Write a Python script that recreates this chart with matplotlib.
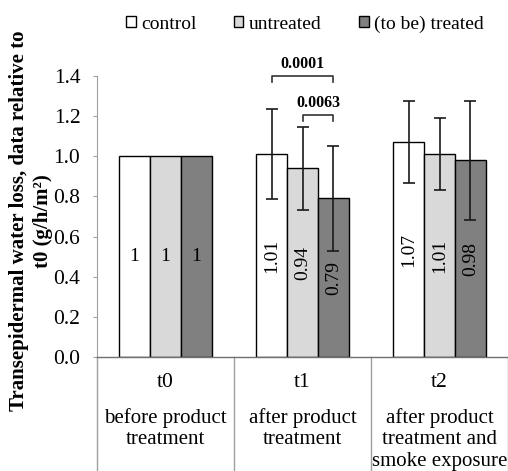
import numpy as np
import matplotlib
matplotlib.use("Agg")
import matplotlib.pyplot as plt
from matplotlib.transforms import blended_transform_factory

plt.rcParams['font.family'] = ['Liberation Serif', 'DejaVu Serif']

categories = ['t0', 't1', 't2']
descriptions = ['before product\ntreatment', 'after product\ntreatment',
                'after product\ntreatment and\nsmoke exposure']
series_names = ['control', 'untreated', '(to be) treated']
control = [1.0, 1.01, 1.07]
untreated = [1.0, 0.94, 1.01]
treated = [1.0, 0.79, 0.98]
control_err = [0.0, 0.225, 0.205]
untreated_err = [0.0, 0.207, 0.18]
treated_err = [0.0, 0.26, 0.295]
sig_pairs = [(1, 0, 2, '0.0001', 1.40), (1, 1, 2, '0.0063', 1.205)]
yticks = [0.0, 0.2, 0.4, 0.6, 0.8, 1.0, 1.2, 1.4]

colors = ['#FFFFFF', '#D9D9D9', '#808080']
values = [control, untreated, treated]
errs = [control_err, untreated_err, treated_err]

W, H = 508, 471
fig = plt.figure(figsize=(W / 100, H / 100), dpi=100)
ax = fig.add_axes([97 / W, (H - 357) / H, (W - 97) / W, (357 - 76) / H])

x = np.arange(len(categories))
bw = 0.226
offsets = [-bw, 0, bw]
handles = []
for i in range(3):
    xs = x + offsets[i]
    b = ax.bar(xs, values[i], width=bw, color=colors[i], edgecolor='black',
               linewidth=1.0, label=series_names[i], zorder=2)
    handles.append(b)
    for j in range(len(categories)):
        v = values[i][j]
        lab = f"{v:g}"
        rot = 0 if len(lab) == 1 else 90
        ax.text(xs[j], v / 2, lab, ha='center', va='center', rotation=rot,
                fontsize=14, zorder=4)
        if errs[i][j] > 0:
            ax.errorbar(xs[j], v, yerr=errs[i][j], fmt='none', ecolor='#1a1a1a',
                        elinewidth=1.2, capsize=4, capthick=1.2, zorder=3,
                        clip_on=False)

# significance brackets
for cat, a, b_, txt, yv in sig_pairs:
    x1 = x[cat] + offsets[a]
    x2 = x[cat] + offsets[b_]
    ax.plot([x1, x1, x2, x2], [yv - 0.03, yv, yv, yv - 0.03], color='#333333',
            lw=1.2, clip_on=False, zorder=5)
    ax.text((x1 + x2) / 2, yv + 0.02, txt, ha='center', va='bottom',
            fontsize=11.5, fontweight='bold', clip_on=False)

ax.set_xlim(-0.5, len(categories) - 0.5)
ax.set_ylim(0, 1.4)
ax.set_yticks(yticks)
ax.set_yticklabels([f"{t:.1f}" for t in yticks], fontsize=15.5)
ax.tick_params(axis='y', length=3, color='#A0A0A0', pad=9)
ax.set_xticks([])
for s in ['top', 'right']:
    ax.spines[s].set_visible(False)
ax.spines['left'].set_color('#A0A0A0')
ax.spines['bottom'].set_color('#707070')
ax.spines['bottom'].set_linewidth(1.0)

# category table below axis
tr = blended_transform_factory(ax.transData, ax.transAxes)
for sep in np.arange(len(categories) + 1) - 0.5:
    ax.plot([sep, sep], [0, -0.45], color='#A0A0A0', lw=1.0,
            transform=tr, clip_on=False)
for j, (c, d) in enumerate(zip(categories, descriptions)):
    ax.text(x[j], -0.089, c, ha='center', va='center', fontsize=15.5,
            transform=tr, clip_on=False)
    ax.text(x[j], -0.182, d, ha='center', va='top', fontsize=15,
            transform=tr, clip_on=False, linespacing=1.17)

# y label
fig.text(31 / W, 1 - 221 / H,
         'Transepidermal water loss, data relative to\nt0 (g/h/m²)',
         rotation=90, ha='center', va='center', fontsize=15,
         fontweight='bold', multialignment='center', linespacing=1.3)

# legend
fig.legend(handles=handles, labels=series_names, loc='center',
           bbox_to_anchor=(305 / W, 1 - 24 / H), ncol=3, frameon=False,
           fontsize=14, handlelength=0.5, handleheight=0.5,
           handletextpad=0.3, columnspacing=1.9, borderaxespad=0)

fig.savefig('out.png', dpi=100)
